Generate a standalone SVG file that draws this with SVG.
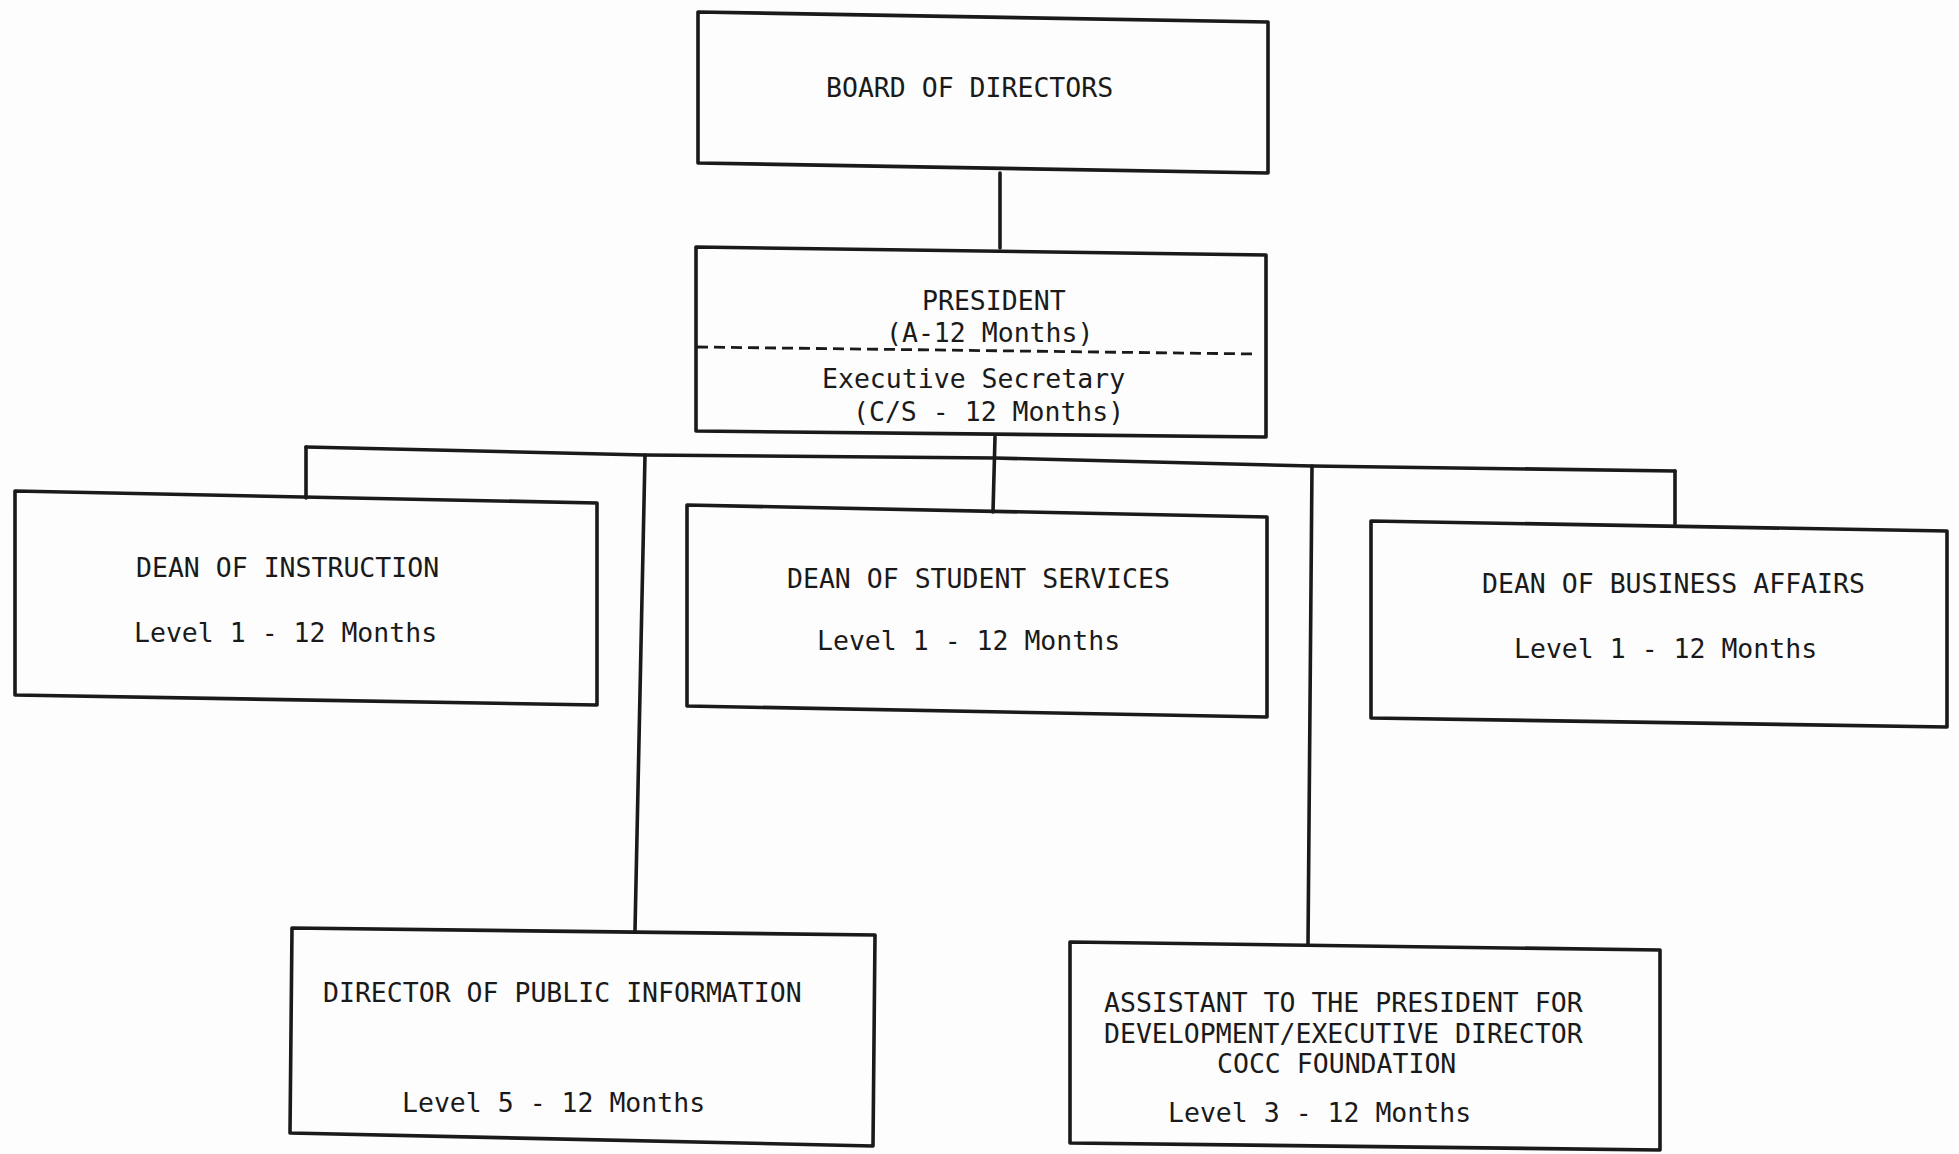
<svg xmlns="http://www.w3.org/2000/svg" width="1959" height="1154" viewBox="0 0 1959 1154">
<style>
.box{fill:none;stroke:#1a1a1a;stroke-width:3.6;stroke-linejoin:round}
.con{fill:none;stroke:#1a1a1a;stroke-width:3.6;stroke-linecap:round;stroke-linejoin:round}
.dash{fill:none;stroke:#1a1a1a;stroke-width:2.8;stroke-dasharray:11 6}
text{font-family:"DejaVu Sans Mono","Liberation Mono",monospace;font-size:26.5px;fill:#1a1a1a}
</style>
<rect width="1959" height="1154" fill="#fdfdfd"/>
<g id="connectors">
<polyline class="con" points="1000,173 1000,248"/>
<polyline class="con" points="995,437 993,512"/>
<polyline class="con" points="306,447 645,455 995,458 1312,466 1675,471"/>
<polyline class="con" points="306,447 306,498"/>
<polyline class="con" points="1675,471 1675,524"/>
<polyline class="con" points="645,455 635,931"/>
<polyline class="con" points="1312,466 1308,945"/>
</g>
<g id="board">
<polygon class="box" points="698,12 1268,22 1268,173 698,163"/>
<text x="826" y="97">BOARD OF DIRECTORS</text>
</g>
<g id="president">
<polygon class="box" points="696,247 1266,255 1266,437 696,431"/>
<text x="922" y="310">PRESIDENT</text>
<text x="886" y="342">(A-12 Months)</text>
<line class="dash" x1="697" y1="347" x2="1258" y2="354"/>
<text x="822" y="388">Executive Secretary</text>
<text x="853" y="421">(C/S - 12 Months)</text>
</g>
<g id="dean-instruction">
<polygon class="box" points="15,491 597,503 597,705 15,695"/>
<text x="136" y="577">DEAN OF INSTRUCTION</text>
<text x="134" y="642">Level 1 - 12 Months</text>
</g>
<g id="dean-student-services">
<polygon class="box" points="687,505 1267,517 1267,717 687,706"/>
<text x="787" y="588">DEAN OF STUDENT SERVICES</text>
<text x="817" y="650">Level 1 - 12 Months</text>
</g>
<g id="dean-business-affairs">
<polygon class="box" points="1371,521 1947,531 1947,727 1371,718"/>
<text x="1482" y="593">DEAN OF BUSINESS AFFAIRS</text>
<text x="1514" y="658">Level 1 - 12 Months</text>
</g>
<g id="director-public-information">
<polygon class="box" points="292,928 875,935 873,1146 290,1133"/>
<text x="323" y="1002">DIRECTOR OF PUBLIC INFORMATION</text>
<text x="402" y="1112">Level 5 - 12 Months</text>
</g>
<g id="assistant-to-president">
<polygon class="box" points="1070,942 1660,950 1660,1150 1070,1143"/>
<text x="1104" y="1012">ASSISTANT TO THE PRESIDENT FOR</text>
<text x="1104" y="1043">DEVELOPMENT/EXECUTIVE DIRECTOR</text>
<text x="1217" y="1073">COCC FOUNDATION</text>
<text x="1168" y="1122">Level 3 - 12 Months</text>
</g>
</svg>
